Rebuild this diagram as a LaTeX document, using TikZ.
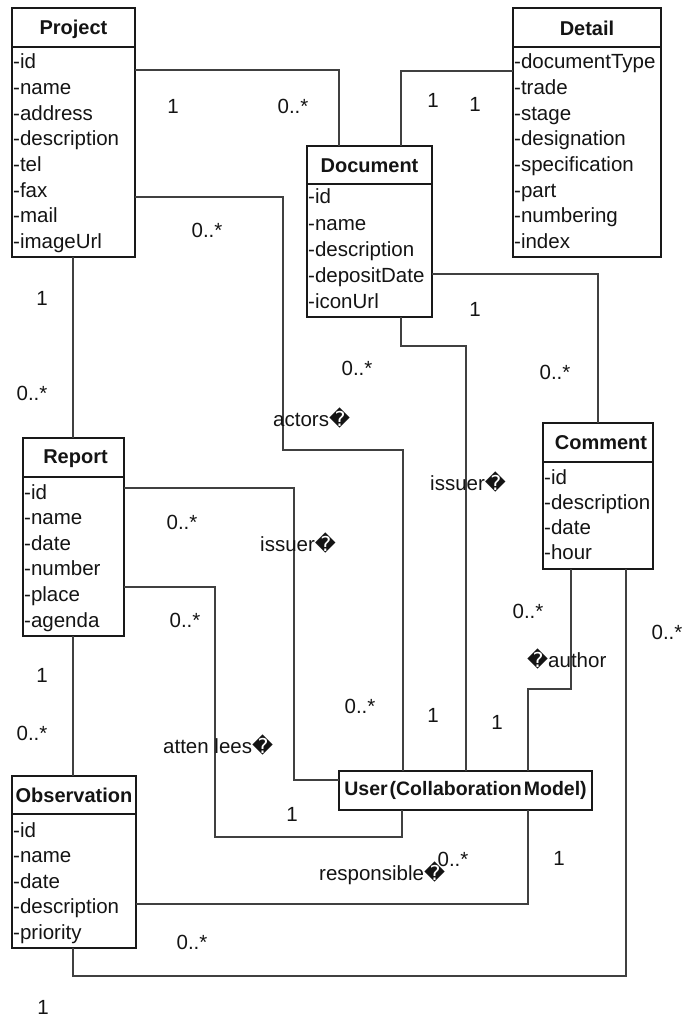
\documentclass[tikz,border=0pt]{standalone}
\usepackage{fontspec}
\setmainfont{Liberation Sans}
\newfontfamily\dvsfont{DejaVu Sans}
\newcommand\rchar{{\dvsfont\symbol{"FFFD}}}
\begin{document}
\begin{tikzpicture}[x=1pt,y=-1pt,
  font=\fontsize{20.5}{25.6}\selectfont,
  every node/.style={text=black!92},
  cls/.style={draw=black!90, line width=1.8pt, inner sep=0pt, outer sep=0pt, anchor=north west},
  sep/.style={draw=black!90, line width=1.8pt},
  hdr/.style={inner sep=0pt, font=\fontsize{20}{24}\selectfont\bfseries},
  attr/.style={anchor=base west, inner sep=0pt},
  conn/.style={draw=black!75, line width=1.3pt},
  lbl/.style={inner sep=0pt},
  rlbl/.style={inner sep=0pt, anchor=west}]
\useasboundingbox (0,0) rectangle (683,1019);

% ---------- classes ----------
\node[cls, minimum width=123pt, minimum height=249pt] (project) at (12,8) {};
\draw[sep] ([yshift=-39pt]project.north west) -- ([yshift=-39pt]project.north east);
\node[hdr] (project-h) at ([yshift=-21pt]project.north) {Project};
\foreach \t [count=\i from 0] in {-id,-name,-address,-description,-tel,-fax,-mail,-imageUrl}
  \node[attr] (project-a\i) at (13,{69+\i*25.6}) {\t};

\node[cls, minimum width=148pt, minimum height=249pt] (detail) at (513,8) {};
\draw[sep] ([yshift=-39pt]detail.north west) -- ([yshift=-39pt]detail.north east);
\node[hdr] (detail-h) at ([yshift=-20pt]detail.north) {Detail};
\foreach \t [count=\i from 0] in {-documentType,-trade,-stage,-designation,-specification,-part,-numbering,-index}
  \node[attr] (detail-a\i) at (514,{69+\i*25.6}) {\t};

\node[cls, minimum width=125pt, minimum height=171pt] (document) at (307,146) {};
\draw[sep] ([yshift=-38pt]document.north west) -- ([yshift=-38pt]document.north east);
\node[hdr] (document-h) at ([yshift=-19.5pt]document.north) {Document};
\foreach \t [count=\i from 0] in {-id,-name,-description,-depositDate,-iconUrl}
  \node[attr] (document-a\i) at (308,{204+\i*26}) {\t};

\node[cls, minimum width=101pt, minimum height=198pt] (report) at (23,438) {};
\draw[sep] ([yshift=-39pt]report.north west) -- ([yshift=-39pt]report.north east);
\node[hdr] (report-h) at ([xshift=2pt,yshift=-21pt]report.north) {Report};
\foreach \t [count=\i from 0] in {-id,-name,-date,-number,-place,-agenda}
  \node[attr] (report-a\i) at (24,{499+\i*25.6}) {\t};

\node[cls, minimum width=110pt, minimum height=146pt] (comment) at (543,423) {};
\draw[sep] ([yshift=-39pt]comment.north west) -- ([yshift=-39pt]comment.north east);
\node[hdr] (comment-h) at ([xshift=3pt,yshift=-20pt]comment.north) {Comment};
\foreach \t [count=\i from 0] in {-id,-description,-date,-hour}
  \node[attr] (comment-a\i) at (544,{484+\i*25.3}) {\t};

\node[cls, minimum width=124pt, minimum height=172pt] (observation) at (12,776) {};
\draw[sep] ([yshift=-38pt]observation.north west) -- ([yshift=-38pt]observation.north east);
\node[hdr] (observation-h) at ([yshift=-19.5pt]observation.north) {Observation};
\foreach \t [count=\i from 0] in {-id,-name,-date,-description,-priority}
  \node[attr] (observation-a\i) at (13,{837+\i*25.5}) {\t};

\node[cls, minimum width=253pt, minimum height=39pt] (user) at (339,771) {};
\node[hdr, font=\fontsize{19.5}{24}\selectfont\bfseries] (user-h) at (user.center) {User\hspace{2pt}(Collaboration\hspace{2pt}Model)};

% ---------- connectors ----------
\draw[conn] ([yshift=-62pt]project.north east) -| ([xshift=32pt]document.north west);
\draw[conn] ([yshift=-63pt]detail.north west) -| ([xshift=94pt]document.north west);
\draw[conn] ([yshift=-189pt]project.north east) -| (283,450) -| ([xshift=64pt]user.north west);
\draw[conn] ([xshift=94pt]document.south west) |- (466,346) -- ([xshift=127pt]user.north west);
\draw[conn] ([yshift=-128pt]document.north east) -| ([xshift=55pt]comment.north west);
\draw[conn] ([yshift=-50pt]report.north east) -| (294,780) -- ([yshift=-9pt]user.north west);
\draw[conn] ([yshift=-149pt]report.north east) -| (215,837) -| ([xshift=63pt]user.south west);
\draw[conn] ([xshift=61pt]project.south west) -- ([xshift=50pt]report.north west);
\draw[conn] ([xshift=50pt]report.south west) -- ([xshift=61pt]observation.north west);
\draw[conn] ([xshift=28pt]comment.south west) |- (528,689) -- ([xshift=189pt]user.north west);
\draw[conn] ([xshift=83pt]comment.south west) |- (73,976) -- ([xshift=61pt]observation.south west);
\draw[conn] ([xshift=189pt]user.south west) |- ([yshift=44pt]observation.south east);

% ---------- multiplicities ----------
\node[lbl] (m1) at (173,106) {1};
\node[lbl] (m2) at (293,106) {0..*};
\node[lbl] (m3) at (433,100) {1};
\node[lbl] (m4) at (475,104) {1};
\node[lbl] (m5) at (207,230) {0..*};
\node[lbl] (m6) at (42,298) {1};
\node[lbl] (m7) at (32,393) {0..*};
\node[lbl] (m8) at (475,309) {1};
\node[lbl] (m9) at (357,368) {0..*};
\node[lbl] (m10) at (555,372) {0..*};
\node[lbl] (m11) at (182,522) {0..*};
\node[lbl] (m12) at (185,620) {0..*};
\node[lbl] (m13) at (528,611) {0..*};
\node[lbl] (m14) at (667,632) {0..*};
\node[lbl] (m15) at (42,675) {1};
\node[lbl] (m16) at (32,733) {0..*};
\node[lbl] (m17) at (360,706) {0..*};
\node[lbl] (m18) at (433,715) {1};
\node[lbl] (m19) at (497,722) {1};
\node[lbl] (m20) at (292,814) {1};
\node[lbl] (m21) at (559,858) {1};
\node[lbl] (m22) at (453,859) {0..*};
\node[lbl] (m23) at (192,942) {0..*};
\node[lbl] (m24) at (43,1007) {1};

% ---------- role names ----------
\node[rlbl] (r1) at (273,418) {actors\rchar};
\node[rlbl] (r2) at (260,543) {issuer\rchar};
\node[rlbl] (r3) at (430,482) {issuer\rchar};
\node[rlbl] (r4) at (163,745) {atten lees\rchar};
\node[rlbl] (r5) at (527,659) {\rchar author};
\node[rlbl] (r6) at (319,873) {responsible\rchar};
\end{tikzpicture}
\end{document}
